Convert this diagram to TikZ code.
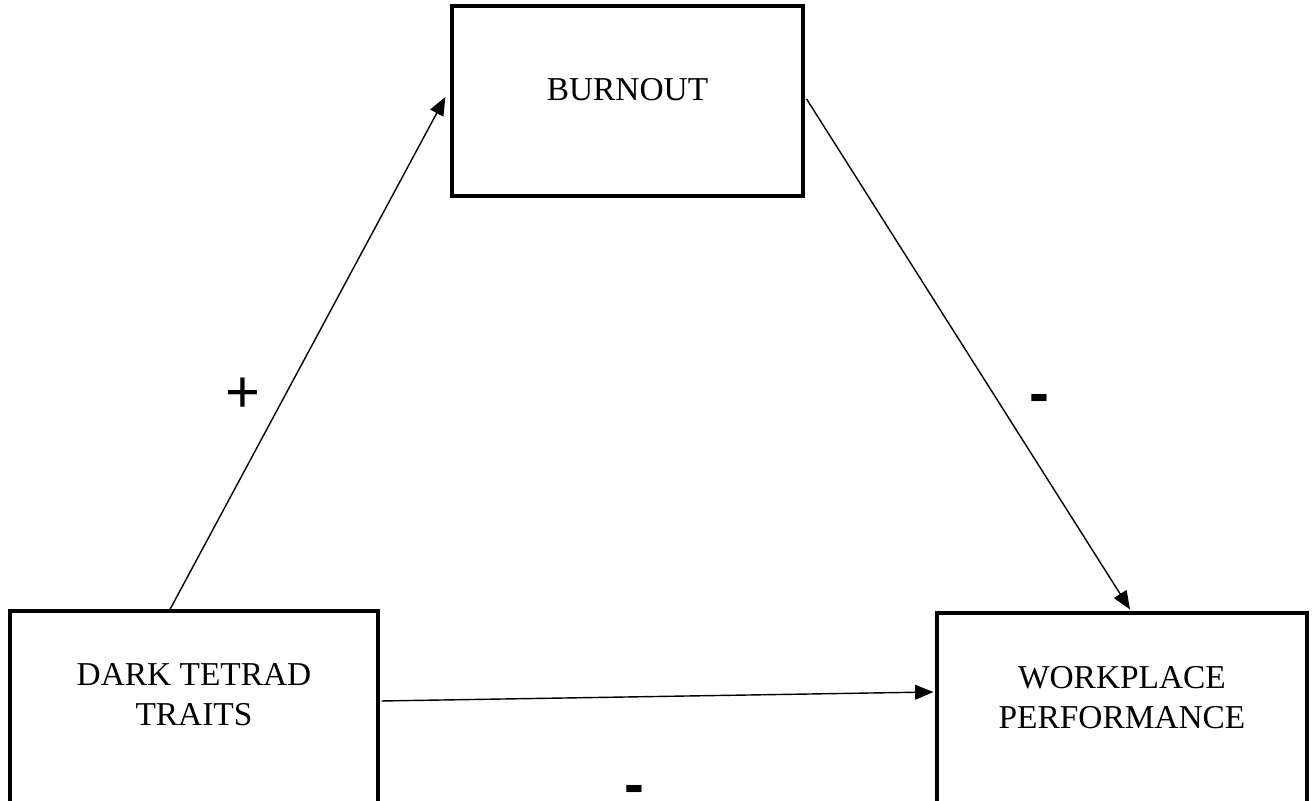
\documentclass[tikz,border=0pt]{standalone}
\usepackage{fontspec}
\setmainfont{Liberation Serif}
\newfontfamily\signfont{Liberation Sans}
\usetikzlibrary{arrows.meta,positioning}
\tikzset{
    model box/.style={
        draw,line width=0.9pt,
        minimum height=1.9cm,inner sep=0pt
    },
    model text/.style={
        align=center,inner sep=0pt,
        font=\fontsize{9.5}{11.4}\selectfont
    },
    sign label/.style={
        inner sep=0pt,
        font=\signfont\fontsize{17}{20}\selectfont
    },
    >={Triangle[length=5.2pt,width=4.2pt]}
}
\begin{document}
\begin{tikzpicture}
\useasboundingbox (0,0) rectangle (13.12,-8.01);
\node[model box,minimum width=3.51cm] (burnout) at (6.275,-1.01) {};
\node[model box,minimum width=3.68cm,minimum height=1.92cm] (dark) at (1.94,-7.07) {};
\node[model box,minimum width=3.70cm,minimum height=1.92cm] (workplace) at (11.22,-7.09) {};
\node[model text] (burnout text) at ([yshift=0.11cm]burnout.center) {BURNOUT};
\node[model text] (dark text) at ([yshift=0.12cm]dark.center) {DARK TETRAD\\TRAITS};
\node[model text] (workplace text) at ([yshift=0.115cm]workplace.center) {WORKPLACE\\PERFORMANCE};
\draw[->,line width=0.4pt] ([xshift=-0.24cm]dark.north) -- ([xshift=-0.05cm,yshift=0.04cm]burnout.west);
\draw[->,line width=0.4pt] ([xshift=0.02cm,yshift=0.02cm]burnout.east) -- ([xshift=0.08cm,yshift=0.02cm]workplace.north);
\draw[->,line width=0.4pt] ([xshift=0.02cm,yshift=0.06cm]dark.east) -- ([xshift=-0.02cm,yshift=0.17cm]workplace.west);
\node[sign label] (plus) at (2.43,-3.95) {+};
\node[sign label,font=\signfont\bfseries\fontsize{17}{20}\selectfont] (minus right) at (10.39,-4.04) {-};
\node[sign label,font=\signfont\bfseries\fontsize{17}{20}\selectfont] (minus bottom) at (6.34,-7.95) {-};
\end{tikzpicture}
\end{document}
